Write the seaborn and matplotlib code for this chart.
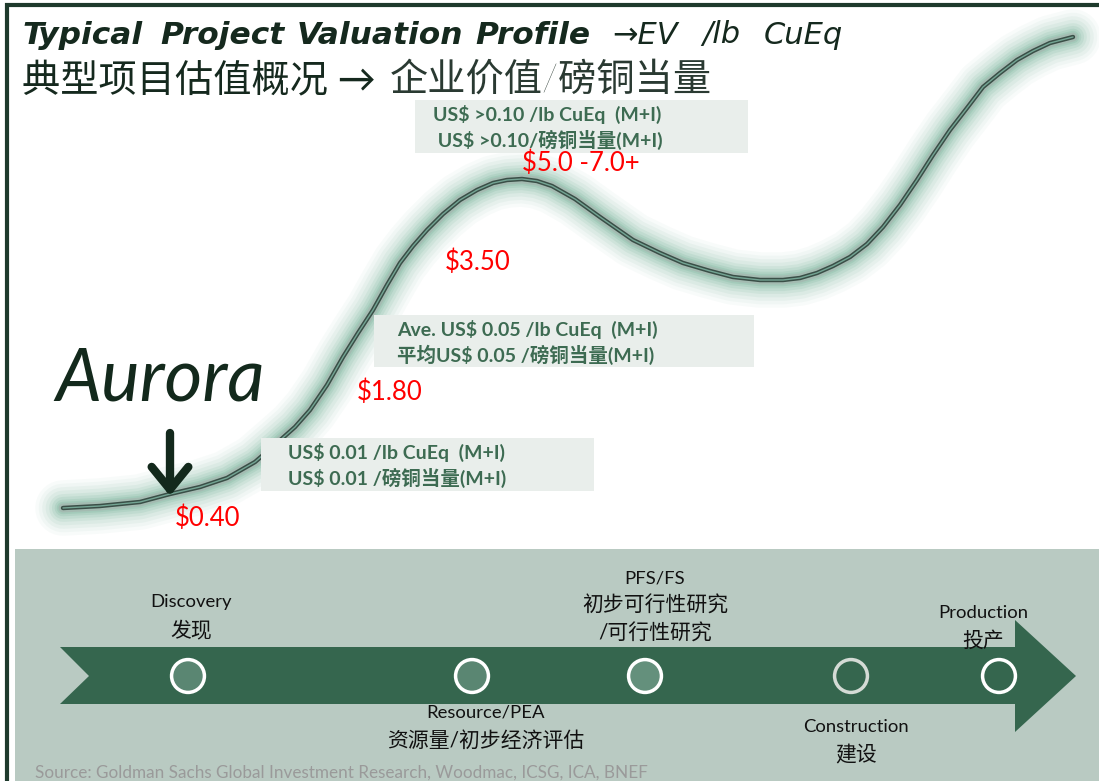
import numpy as np
import pandas as pd
import matplotlib
matplotlib.use("Agg")
import matplotlib.pyplot as plt
from matplotlib.patches import Rectangle, Polygon
import seaborn as sns

# ---------------- data ----------------
curve_x = [63, 100, 140, 170, 200, 227, 255, 277, 295, 310, 327, 343, 358, 373, 387, 400,
           413, 427, 443, 460, 477, 493, 507, 522, 537, 552, 575, 600, 633, 660, 683, 710,
           733, 760, 783, 800, 817, 833, 850, 867, 883, 900, 917, 933, 950, 967, 983, 1000,
           1017, 1033, 1050, 1073]
curve_y = [508, 506, 502, 494, 487, 478, 462, 443, 427, 410, 385, 357, 333, 310, 285, 263,
           246, 230, 214, 200, 190, 183, 180, 179, 181, 186, 199, 217, 240, 253, 263, 271,
           277, 280, 280, 278, 273, 266, 257, 244, 227, 205, 180, 155, 130, 108, 87, 73,
           60, 51, 43, 37]

value_labels = ["$0.40", "$1.80", "$3.50", "$5.0 -7.0+"]
value_x = [175, 357, 445, 522]
value_y = [518, 392, 262, 163]

box_lines = [["US$ >0.10 /lb CuEq  (M+I)", " US$ >0.10/磅铜当量(M+I)"],
             ["Ave. US$ 0.05 /lb CuEq  (M+I)", "平均US$ 0.05 /磅铜当量(M+I)"],
             ["US$ 0.01 /lb CuEq  (M+I)", "US$ 0.01 /磅铜当量(M+I)"]]

stages = ["Discovery", "Resource/PEA", "PFS/FS", "Construction", "Production"]
stage_cn = ["发现", "资源量/初步经济评估", "初步可行性研究\n/可行性研究", "建设", "投产"]
stage_x = [188, 472, 645, 851, 999]

title_words = ["Typical", "Project", "Valuation", "Profile"]
title_words2 = ["→EV", "/lb", "CuEq"]
title_cn = "典型项目估值概况 →"
title_cn2 = "企业价值/磅铜当量"
source = "Source: Goldman Sachs Global Investment Research, Woodmac, ICSG, ICA, BNEF"

# ---------------- style ----------------
sns.set_theme(style="white")
plt.rcParams["font.family"] = ["Lato", "Noto Sans CJK SC", "DejaVu Sans"]

W, H = 1099, 781
fig = plt.figure(figsize=(W / 100, H / 100), dpi=100)
ax = fig.add_axes([0, 0, 1, 1])


def reset():
    ax.set_xlim(0, W)
    ax.set_ylim(H, 0)
    ax.axis("off")


reset()

# frame lines
ax.plot([7, 7, W], [H, 5, 5], color="#1e3a2c", lw=3, solid_joinstyle="miter")

# ---------------- curve with glow ----------------
df = pd.DataFrame({"x": curve_x, "y": curve_y})
for lw, a in [(40, 0.04), (35, 0.05), (30, 0.065), (25, 0.08), (20, 0.10),
              (16, 0.12), (12, 0.15), (9, 0.18)]:
    sns.lineplot(data=df, x="x", y="y", sort=False, ax=ax, color="#62a68a",
                 lw=lw, alpha=a, solid_capstyle="round", solid_joinstyle="round")
sns.lineplot(data=df, x="x", y="y", sort=False, ax=ax, color="#a3bab1", lw=6.5,
             alpha=0.9, solid_capstyle="round", solid_joinstyle="round")
sns.lineplot(data=df, x="x", y="y", sort=False, ax=ax, color="#3a4f47", lw=3.2,
             solid_capstyle="round", solid_joinstyle="round")
sns.lineplot(data=df, x="x", y="y", sort=False, ax=ax, color="#74a594", lw=1.0,
             solid_capstyle="round", solid_joinstyle="round")
reset()

# ---------------- boxes ----------------
boxes = [(415, 100, 333, 53, 433), (374, 315, 380, 52, 397), (261, 438, 333, 53, 288)]
for (bx, by, bw, bh, tx), lines in zip(boxes, box_lines):
    ax.add_patch(Rectangle((bx, by), bw, bh, facecolor="#e9eeeb", edgecolor="none", zorder=3))
    ax.text(tx, by + 14, lines[0], color="#3d6b52", fontsize=14, fontweight="bold",
            va="center", ha="left", zorder=4)
    ax.text(tx, by + 40, lines[1], color="#3d6b52", fontsize=14, fontweight="bold",
            va="center", ha="left", zorder=4)

# value labels
for lab, x, y in zip(value_labels, value_x, value_y):
    ax.text(x, y, lab, color="#ff0000", fontsize=18.5, va="center", ha="left", zorder=5)

# ---------------- titles ----------------
for word, x in zip(title_words, [22, 160, 297, 475]):
    ax.text(x, 35, word, fontsize=22.5, fontweight="bold", fontstyle="italic",
            family=["DejaVu Sans"], color="#15291e", va="center", ha="left")
for word, x in zip(title_words2, [612, 702, 764]):
    ax.text(x, 35, word, fontsize=22, fontstyle="italic",
            family=["DejaVu Sans"], color="#15291e", va="center", ha="left")
ax.text(22, 80, title_cn, fontsize=27.5, color="#15291e", va="center", ha="left",
        fontweight="medium")
ax.text(390, 80, title_cn2, fontsize=27.5, color="#2a3a32", va="center", ha="left",
        fontweight="light")

# Aurora + arrow
ax.text(55, 380, "Aurora", fontsize=52.5, fontstyle="italic", color="#13291c",
        va="center", ha="left")
ax.annotate("", xy=(170, 496), xytext=(170, 433),
            arrowprops=dict(arrowstyle="->, head_length=1.35, head_width=1.1",
                            lw=6, color="#13291c", shrinkA=0, shrinkB=0), zorder=6)

# ---------------- bottom band ----------------
ax.add_patch(Rectangle((15, 549), W - 15, H - 549, facecolor="#b9cac2",
                       edgecolor="none", zorder=1))
arrow_pts = [(60, 647), (1015, 647), (1015, 620), (1076, 676), (1015, 732),
             (1015, 704), (60, 704), (89, 676)]
ax.add_patch(Polygon(arrow_pts, closed=True, facecolor="#35664e", edgecolor="none", zorder=2))

fills = ["#5a8672", "#5a8672", "#64907c", "#35664e", "#35664e"]
edges = ["#ffffff", "#ffffff", "#ffffff", "#d4dbd5", "#ffffff"]
sdf = pd.DataFrame({"x": stage_x, "y": [676] * 5, "stage": stages})
sns.scatterplot(data=sdf, x="x", y="y", hue="stage", palette=fills, s=560,
                edgecolor=edges, linewidth=2.5, legend=False, ax=ax, zorder=5)
reset()

label_pos = [(191, 602), (486, 713), (655, 578), (856, 727), (983, 613)]
for (lx, ly), en, cn in zip(label_pos, stages, stage_cn):
    ax.text(lx, ly, en, fontsize=13.3, color="#111111", ha="center", va="center", zorder=6)
    for i, line in enumerate(cn.split("\n")):
        ax.text(lx, ly + 28 * (i + 1), line, fontsize=15, color="#111111",
                ha="center", va="center", zorder=6)

ax.text(35, 773, source, fontsize=12.3, color="#9a9a9a", ha="left", va="center", zorder=6)

fig.savefig("out.png", dpi=100)
